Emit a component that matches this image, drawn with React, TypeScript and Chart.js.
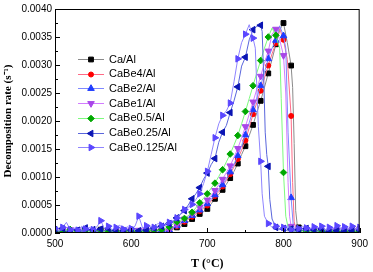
import React, { useEffect, useRef } from 'react';
import { Chart, registerables } from 'chart.js';
import { drawPoint } from 'chart.js/helpers';

Chart.register(...registerables);

// ---------- data ----------
const seriesNames = ['Ca/Al', 'CaBe4/Al', 'CaBe2/Al', 'CaBe1/Al', 'CaBe0.5/Al', 'CaBe0.25/Al', 'CaBe0.125/Al'];

const xTicks = [500, 600, 700, 800, 900];
const yTicks = [0, 0.0005, 0.001, 0.0015, 0.002, 0.0025, 0.003, 0.0035, 0.004];

const lowT = [500, 505, 510, 515, 520, 525, 530, 535, 540, 545,
  550, 555, 560, 565, 570, 575, 580, 585, 590, 595,
  600, 605, 610, 615, 620, 625, 630, 635, 640, 645];
const riseT = [650, 655, 660, 665, 670, 675, 680, 685, 690, 695,
  700, 705, 710, 715, 720, 725, 730, 735, 740, 745];

// Ca/Al
const caAlLow = [0.00004, 0.00002, 0.00005, 0.00001, 0.00003, 0.00006, 0.00002, 0.00004, 0.00001, 0.00005,
  0.00003, 0.00002, 0.00006, 0.00003, 0.00001, 0.00004, 0.00002, 0.00005, 0.00003, 0.00001,
  0.00004, 0.00006, 0.00002, 0.00003, 0.00005, 0.00002, 0.00004, 0.00003, 0.00005, 0.00004];
const caAlRise = [0.00004, 0.00007, 0.0001, 0.00012, 0.00016, 0.0002, 0.00025, 0.0003, 0.00034, 0.00038,
  0.00043, 0.00052, 0.00061, 0.00069, 0.00077, 0.00087, 0.00098, 0.0011, 0.00124, 0.0014];
const caAlTopT = [750, 755, 760, 765, 770, 775, 780, 785, 790, 795,
  800, 805, 810, 812, 814, 816, 818, 820, 825, 830,
  835, 840, 845, 850, 855, 860, 865, 870, 875, 880,
  885, 890, 895, 900];
const caAlTop = [0.00155, 0.00174, 0.00193, 0.00215, 0.00236, 0.0026, 0.00285, 0.0031, 0.00337, 0.00362,
  0.00375, 0.0034, 0.00299, 0.0026, 0.0016, 0.0004, 0.00015, 0.0001, 0.00004, 0.00002,
  0.00005, 0.00003, 0.00001, 0.00004, 0.00006, 0.00002, 0.00003, 0.00005, 0.00002, 0.00004,
  0.00003, 0.00006, 0.00002, 0.00007];

// CaBe4/Al
const be4Low = [0.00003, 0.00005, 0.00002, 0.00004, 0.00001, 0.00003, 0.00005, 0.00002, 0.00004, 0.00003,
  0.00001, 0.00004, 0.00002, 0.00005, 0.00003, 0.00002, 0.00004, 0.00001, 0.00003, 0.00005,
  0.00002, 0.00004, 0.00003, 0.00001, 0.00004, 0.00003, 0.00002, 0.00005, 0.00003, 0.00004];
const be4Rise = [0.00005, 0.00009, 0.00012, 0.00016, 0.0002, 0.00024, 0.00029, 0.00034, 0.00039, 0.00044,
  0.00049, 0.00057, 0.00066, 0.00074, 0.00083, 0.00094, 0.00105, 0.00118, 0.00132, 0.00148];
const be4TopT = [750, 755, 760, 765, 770, 775, 780, 785, 790, 795,
  800, 805, 810, 812, 814, 816,
  820, 825, 830, 835, 840, 845, 850, 855, 860, 865, 870, 875, 880, 885, 890, 895, 900];
const be4Top = [0.00165, 0.00188, 0.00212, 0.00233, 0.00254, 0.00277, 0.00299, 0.0032, 0.00339, 0.00365,
  0.00345, 0.0031, 0.00209, 0.0009, 0.0002, 0.0001,
  0.00004, 0.00002, 0.00005, 0.00003, 0.00002, 0.00004, 0.00001, 0.00005, 0.00003, 0.00006, 0.00002, 0.00004, 0.00003, 0.00005, 0.00002, 0.00006, 0.00004];

// CaBe2/Al
const be2Low = [0.00002, 0.00004, 0.00006, 0.00003, 0.00005, 0.00002, 0.00004, 0.00003, 0.00006, 0.00002,
  0.00004, 0.00005, 0.00003, 0.00002, 0.00006, 0.00004, 0.00003, 0.00005, 0.00002, 0.00004,
  0.00003, 0.00005, 0.00002, 0.00004, 0.00003, 0.00006, 0.00004, 0.00002, 0.00005, 0.00004];
const be2Rise = [0.00005, 0.00009, 0.00013, 0.00017, 0.00022, 0.00026, 0.00031, 0.00036, 0.00041, 0.00046,
  0.00052, 0.0006, 0.00068, 0.00077, 0.00086, 0.00097, 0.00109, 0.00122, 0.00138, 0.00156];
const be2TopT = [750, 755, 760, 765, 770, 775, 780, 785, 790, 795,
  800, 803, 806, 810, 813, 816,
  820, 825, 830, 835, 840, 845, 850, 855, 860, 865, 870, 875, 880, 885, 890, 895, 900];
const be2Top = [0.00175, 0.00197, 0.0022, 0.00241, 0.00263, 0.00287, 0.00311, 0.0033, 0.00344, 0.0037,
  0.00352, 0.0033, 0.0018, 0.00063, 0.0001, 0.00005,
  0.00003, 0.00005, 0.00002, 0.00004, 0.00006, 0.00003, 0.00005, 0.00002, 0.00004, 0.00007, 0.00003, 0.00005, 0.00002, 0.00006, 0.00004, 0.00003, 0.00005];

// CaBe1/Al
const be1Low = [0.00005, 0.00002, 0.00004, 0.00003, 0.00006, 0.00002, 0.00003, 0.00005, 0.00002, 0.00004,
  0.00003, 0.00006, 0.00002, 0.00004, 0.00003, 0.00005, 0.00002, 0.00004, 0.00006, 0.00003,
  0.00004, 0.00002, 0.00005, 0.00003, 0.00004, 0.00006, 0.00003, 0.00004, 0.00005, 0.00005];
const be1Rise = [0.00006, 0.0001, 0.00015, 0.0002, 0.00025, 0.0003, 0.00035, 0.0004, 0.00046, 0.00052,
  0.00059, 0.00067, 0.00076, 0.00086, 0.00096, 0.00108, 0.0012, 0.00135, 0.00151, 0.0017];
const be1TopT = [750, 755, 760, 765, 770, 775, 780, 785, 790, 795,
  800, 803, 806, 808,
  810, 815, 820, 825, 830, 835, 840, 845, 850, 855, 860, 865, 870, 875, 880, 885, 890, 895, 900];
const be1Top = [0.0019, 0.00212, 0.00234, 0.00257, 0.0028, 0.00303, 0.00325, 0.00355, 0.00364, 0.00345,
  0.00317, 0.0025, 0.0009, 0.0003,
  0.00012, 0.00004, 0.00006, 0.00002, 0.00004, 0.00003, 0.00005, 0.00002, 0.00004, 0.00006, 0.00003, 0.00002, 0.00005, 0.00003, 0.00004, 0.00002, 0.00005, 0.00003, 0.00006];

// CaBe0.5/Al
const be05Low = [0.00003, 0.00005, 0.00002, 0.00004, 0.00006, 0.00003, 0.00002, 0.00004, 0.00005, 0.00002,
  0.00004, 0.00003, 0.00005, 0.00002, 0.00004, 0.00006, 0.00003, 0.00002, 0.00004, 0.00005,
  0.00003, 0.00005, 0.00002, 0.00004, 0.00003, 0.00004, 0.00005, 0.00004, 0.00006, 0.00008];
const be05Rise = [0.00011, 0.00016, 0.0002, 0.00023, 0.00026, 0.00031, 0.00037, 0.00045, 0.00054, 0.00062,
  0.0007, 0.0008, 0.00089, 0.00101, 0.00113, 0.00127, 0.00141, 0.00157, 0.00174, 0.00195];
const be05TopT = [750, 755, 760, 765, 770, 775, 780, 785, 790, 795,
  797, 800, 803, 806,
  810, 815, 820, 825, 830, 835, 840, 845, 850, 855, 860, 865, 870, 875, 880, 885, 890, 895, 900];
const be05Top = [0.00217, 0.0024, 0.00263, 0.00286, 0.00308, 0.0033, 0.0035, 0.00366, 0.00353, 0.0033,
  0.0024, 0.00108, 0.0003, 0.0001,
  0.00006, 0.00003, 0.00005, 0.00002, 0.00004, 0.00003, 0.00005, 0.00002, 0.00004, 0.00006, 0.00003, 0.00005, 0.00002, 0.00004, 0.00003, 0.00005, 0.00002, 0.00004, 0.00003];

// CaBe0.25/Al
const be025Low = [0.00006, 0.00003, 0.00008, 0.00004, 0.00002, 0.00007, 0.00005, 0.00003, 0.00009, 0.00004,
  0.00006, 0.00002, 0.00007, 0.00004, 0.00008, 0.00003, 0.00005, 0.00009, 0.00004, 0.00006,
  0.00005, 0.00008, 0.00004, 0.00006, 0.00005, 0.00007, 0.00009, 0.00011, 0.00012, 0.00015];
const be025Rise = [0.00017, 0.00021, 0.00027, 0.00033, 0.0004, 0.0005, 0.00061, 0.0007, 0.00081, 0.00096,
  0.00107, 0.00122, 0.00133, 0.00162, 0.0018, 0.00192, 0.00215, 0.00236, 0.00261, 0.00298];
const be025TopT = [750, 755, 760, 765, 770, 772, 774, 776, 778, 780, 782, 785, 790,
  795, 800, 805, 810, 815, 820, 825, 830, 835, 840, 845, 850, 855, 860, 865, 870, 875, 880, 885, 890, 895, 900];
const be025Top = [0.00314, 0.00345, 0.00363, 0.00369, 0.00371, 0.0036, 0.0028, 0.0018, 0.0014, 0.00119, 0.0006, 0.00025, 0.0001,
  0.00006, 0.00008, 0.00004, 0.00007, 0.00003, 0.00006, 0.00005, 0.00008, 0.00004, 0.00006, 0.00003, 0.00007, 0.00005, 0.00002, 0.00006, 0.00004, 0.00007, 0.00003, 0.00006, 0.00004, 0.00008, 0.00005];

// CaBe0.125/Al
const be0125Low = [0.00008, 0.00004, 0.0001, 0.00019, 0.00006, 0.00009, 0.00005, 0.00012, 0.00007, 0.0001,
  0.00006, 0.00011, 0.00022, 0.00008, 0.00012, 0.00006, 0.0001, 0.00014, 0.00007, 0.00011,
  0.00008, 0.00012, 0.0003, 0.00009, 0.00013, 0.00011, 0.0001, 0.00017, 0.00014, 0.00016];
const be0125Rise = [0.00019, 0.00022, 0.00027, 0.00035, 0.00042, 0.00046, 0.00051, 0.0006, 0.0007, 0.00088,
  0.0011, 0.0014, 0.0017, 0.00195, 0.0021, 0.00218, 0.00232, 0.0027, 0.00311, 0.0034];
const be0125TopT = [750, 755, 760, 763, 765, 767, 770, 772, 775, 780,
  785, 790, 795, 800, 805, 810, 815, 820, 825, 830, 835, 840, 845, 850, 855, 860, 865, 870, 875, 880, 885, 890, 895, 900];
const be0125Top = [0.00355, 0.00372, 0.00348, 0.0033, 0.0026, 0.0019, 0.00128, 0.0007, 0.0003, 0.00017,
  0.0001, 0.00012, 0.00007, 0.0001, 0.00013, 0.00006, 0.00011, 0.00008, 0.00012, 0.00009, 0.00007, 0.00011, 0.00009, 0.00012, 0.00006, 0.0001, 0.00008, 0.00013, 0.00009, 0.00011, 0.00008, 0.00012, 0.00007, 0.0001];

// ---------- styles ----------
const lineColors = ['#8a8a8a', '#ff6a86', '#7e88ff', '#d27cff', '#7dfa7d', '#5a66dc', '#8f84ff'];
const markerColors = ['#000000', '#ff0000', '#1e3cff', '#a846e8', '#00a800', '#0a14b4', '#5a46ff'];
const markerStyles = ['rect', 'circle', 'triangle', 'triangle', 'rectRot', 'triangle', 'triangle'];
const markerRot = [0, 0, 0, 180, 0, 270, 90];
const markerSize = [3.4, 2.5, 3.8, 3.8, 3.3, 3.8, 3.8];

const seriesT = [
  [...lowT, ...riseT, ...caAlTopT],
  [...lowT, ...riseT, ...be4TopT],
  [...lowT, ...riseT, ...be2TopT],
  [...lowT, ...riseT, ...be1TopT],
  [...lowT, ...riseT, ...be05TopT],
  [...lowT, ...riseT, ...be025TopT],
  [...lowT, ...riseT, ...be0125TopT],
];
const seriesR = [
  [...caAlLow, ...caAlRise, ...caAlTop],
  [...be4Low, ...be4Rise, ...be4Top],
  [...be2Low, ...be2Rise, ...be2Top],
  [...be1Low, ...be1Rise, ...be1Top],
  [...be05Low, ...be05Rise, ...be05Top],
  [...be025Low, ...be025Rise, ...be025Top],
  [...be0125Low, ...be0125Rise, ...be0125Top],
];

const SANS = '"Liberation Sans", Arial, sans-serif';
const SERIF = '"Liberation Serif", "Times New Roman", serif';

const framePlugin = {
  id: 'frameTicks',
  afterDatasetsDraw(chart: any) {
    const { ctx, chartArea: a, scales } = chart;
    const xs = scales.x;
    const ys = scales.y;
    ctx.save();
    ctx.strokeStyle = '#000';
    ctx.lineWidth = 1;
    ctx.strokeRect(a.left + 0.5, a.top + 0.5, a.right - a.left - 1, a.bottom - a.top - 1);
    ctx.beginPath();
    for (let v = 500; v <= 900; v += 50) {
      const px = Math.round(xs.getPixelForValue(v)) + 0.5;
      const len = v % 100 === 0 ? 5 : 3;
      ctx.moveTo(px, a.bottom);
      ctx.lineTo(px, a.bottom - len);
    }
    for (let i = 0; i <= 16; i++) {
      const v = i * 0.00025;
      const py = Math.round(ys.getPixelForValue(v)) + 0.5;
      const len = i % 2 === 0 ? 5 : 3;
      ctx.moveTo(a.left, py);
      ctx.lineTo(a.left + len, py);
    }
    ctx.stroke();
    ctx.restore();
  },
};

const legendPlugin = {
  id: 'insideLegend',
  afterDraw(chart: any) {
    const { ctx, chartArea: a } = chart;
    ctx.save();
    const x0 = a.left + 23;
    const x1 = x0 + 26;
    for (let i = 0; i < seriesNames.length; i++) {
      const y = a.top + 50 + i * 14.7;
      ctx.strokeStyle = lineColors[i];
      ctx.lineWidth = 1;
      ctx.beginPath();
      ctx.moveTo(x0, Math.round(y) + 0.5);
      ctx.lineTo(x1, Math.round(y) + 0.5);
      ctx.stroke();
      ctx.fillStyle = markerColors[i];
      ctx.strokeStyle = markerColors[i];
      drawPoint(ctx, { pointStyle: markerStyles[i], rotation: markerRot[i], radius: markerSize[i], borderWidth: 1 } as any, (x0 + x1) / 2, Math.round(y) + 0.5);
      ctx.fillStyle = '#000';
      ctx.font = `11px ${SANS}`;
      ctx.textBaseline = 'middle';
      ctx.textAlign = 'left';
      ctx.fillText(seriesNames[i], x1 + 5, y + 0.5);
    }
    ctx.restore();
  },
};

export default function App() {
  const ref = useRef<HTMLCanvasElement | null>(null);
  useEffect(() => {
    if (!ref.current) return;
    const datasets = seriesNames.map((name, i) => ({
      label: name,
      data: seriesT[i].map((t, k) => ({ x: t, y: seriesR[i][k] })),
      borderColor: lineColors[i],
      backgroundColor: markerColors[i],
      borderWidth: 1,
      pointStyle: markerStyles[i],
      pointRotation: markerRot[i],
      pointRadius: (c: any) => (c.raw && c.raw.x % 10 === 0 ? markerSize[i] : 0),
      pointBackgroundColor: markerColors[i],
      pointBorderColor: markerColors[i],
      pointBorderWidth: 1,
      tension: 0,
      order: seriesNames.length - i,
    }));
    const chart = new Chart(ref.current, {
      type: 'line',
      data: { datasets },
      options: {
        animation: false,
        responsive: false,
        devicePixelRatio: 1,
        layout: { padding: { top: 4, right: 10, left: 0, bottom: 0 } },
        plugins: { legend: { display: false }, tooltip: { enabled: false } },
        scales: {
          x: {
            type: 'linear',
            min: 500,
            max: 900,
            afterBuildTicks: (s: any) => { s.ticks = xTicks.map((v) => ({ value: v })); },
            afterFit: (s: any) => { s.height = 39; },
            ticks: { color: '#000', font: { family: SANS, size: 10 }, padding: 5, maxRotation: 0 },
            grid: { display: false, drawTicks: false },
            border: { display: false },
            title: { display: true, text: 'T (°C)', color: '#000', font: { family: SERIF, size: 12, weight: 'bold' }, padding: { top: 0, bottom: 1 } },
          },
          y: {
            type: 'linear',
            min: 0,
            max: 0.004,
            afterBuildTicks: (s: any) => { s.ticks = yTicks.map((v) => ({ value: v })); },
            afterFit: (s: any) => { s.width = 55; },
            ticks: { color: '#000', font: { family: SANS, size: 10 }, padding: 3, callback: (v: any) => Number(v).toFixed(4) },
            grid: { display: false, drawTicks: false },
            border: { display: false },
            title: { display: true, text: 'Decomposition rate (s⁻¹)', color: '#000', font: { family: SERIF, size: 11, weight: 'bold' }, padding: { top: 2, bottom: 0 } },
          },
        },
      },
      plugins: [framePlugin, legendPlugin],
    } as any);
    return () => chart.destroy();
  }, []);
  return (
    <div style={{ position: 'absolute', left: 0, top: 0, width: 373, height: 272, background: '#fff' }}>
      <canvas ref={ref} width={373} height={272} style={{ display: 'block' }} />
    </div>
  );
}
